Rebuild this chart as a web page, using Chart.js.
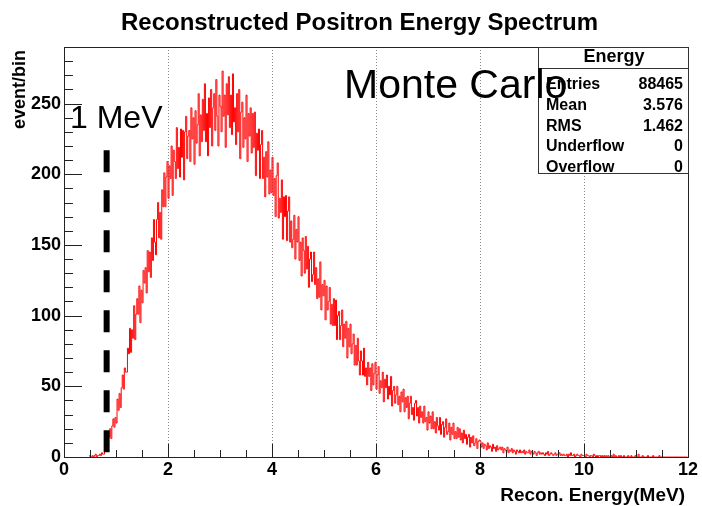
<!DOCTYPE html>
<html>
<head>
<meta charset="utf-8">
<title>Reconstructed Positron Energy Spectrum</title>
<script src="https://cdn.jsdelivr.net/npm/chart.js@4.4.1/dist/chart.umd.min.js"></script>
<style>
  html, body { margin: 0; padding: 0; background: #fff; }
</style>
</head>
<body>
<canvas id="spectrum" width="702" height="506"></canvas>
<script>
// reconstructed positron energy, Monte Carlo, events per bin (bins of 0.02 MeV from 0)
var binStart = 0;
var binWidth = 0.02;
var counts = [
  // 0.0 - 0.4
  null, null, null, null, null, null, null, null, null, null, null, null, null, null, null, null, null, null, null, null,
  // 0.4 - 0.8
  null, null, null, null, 1, 0, 0, 1, 0, 1, 2, 0, 1, 1, 2, 1, 3, 2, 2, 4,
  // 0.8 - 1.2
  13, 9, 17, 14, 20, 13, 22, 27, 21, 28, 24, 41, 33, 45, 35, 49, 58, 48, 63, 60,
  // 1.2 - 1.6
  60, 77, 73, 91, 74, 90, 84, 107, 83, 101, 112, 101, 121, 95, 118, 109, 132, 123, 134, 116,
  // 1.6 - 2.0
  146, 131, 145, 127, 155, 139, 168, 152, 143, 168, 180, 155, 173, 154, 189, 177, 201, 177, 198, 209,
  // 2.0 - 2.4
  183, 206, 197, 220, 185, 217, 209, 197, 233, 204, 219, 198, 232, 212, 231, 196, 230, 241, 211, 227,
  // 2.4 - 2.8
  231, 209, 247, 225, 240, 207, 245, 222, 235, 257, 213, 242, 223, 253, 231, 264, 223, 243, 213, 254,
  // 2.8 - 3.2
  233, 260, 220, 247, 257, 231, 267, 241, 220, 256, 248, 230, 273, 241, 256, 219, 264, 242, 269, 233,
  // 3.2 - 3.6
  256, 228, 271, 237, 247, 221, 257, 230, 260, 211, 244, 251, 219, 240, 225, 256, 209, 243, 227, 247,
  // 3.6 - 4.0
  215, 243, 219, 244, 199, 229, 217, 232, 197, 221, 231, 197, 212, 184, 216, 198, 223, 186, 203, 187,
  // 4.0 - 4.4
  212, 185, 197, 170, 199, 208, 169, 183, 173, 196, 154, 184, 170, 185, 153, 174, 184, 152, 167, 148,
  // 4.4 - 4.8
  154, 171, 140, 161, 152, 170, 139, 152, 128, 155, 146, 130, 156, 133, 149, 120, 140, 145, 124, 129,
  // 4.8 - 5.2
  145, 122, 134, 112, 126, 113, 138, 104, 122, 114, 125, 97, 121, 104, 110, 120, 94, 108, 93, 112,
  // 5.2 - 5.6
  93, 111, 83, 100, 103, 83, 93, 104, 78, 94, 84, 96, 70, 91, 78, 94, 73, 80, 87, 65,
  // 5.6 - 6.0
  79, 65, 84, 68, 58, 75, 68, 58, 77, 57, 63, 51, 67, 57, 63, 47, 66, 51, 59, 67,
  // 6.0 - 6.4
  48, 58, 64, 45, 54, 49, 60, 39, 55, 49, 58, 41, 50, 44, 57, 36, 47, 50, 38, 44,
  // 6.4 - 6.8
  50, 37, 43, 32, 46, 39, 48, 32, 42, 35, 43, 27, 38, 43, 30, 35, 26, 38, 40, 29,
  // 6.8 - 7.2
  35, 24, 36, 28, 32, 24, 36, 25, 28, 19, 32, 24, 29, 20, 32, 20, 25, 17, 28, 22,
  // 7.2 - 7.6
  19, 28, 16, 23, 25, 14, 21, 27, 16, 18, 24, 12, 21, 16, 24, 13, 18, 13, 21, 14,
  // 7.6 - 8.0
  20, 12, 17, 10, 19, 13, 16, 9, 14, 16, 7, 14, 10, 15, 8, 10, 13, 6, 11, 12,
  // 8.0 - 8.4
  11, 7, 10, 6, 9, 8, 5, 10, 6, 8, 7, 4, 9, 6, 7, 4, 8, 5, 6, 7,
  // 8.4 - 8.8
  5, 7, 3, 6, 5, 4, 7, 3, 5, 4, 6, 3, 5, 4, 2, 5, 4, 3, 5, 3,
  // 8.8 - 9.2
  4, 3, 5, 2, 4, 3, 3, 5, 2, 4, 3, 2, 4, 3, 1, 3, 4, 2, 3, 2,
  // 9.2 - 9.6
  3, 2, 1, 3, 2, 4, 1, 2, 3, 2, 1, 2, 3, 1, 2, 2, 3, 1, 2, 1,
  // 9.6 - 10.0
  2, 1, 1, 2, 0, 2, 1, 3, 1, 1, 2, 0, 1, 2, 1, 1, 0, 2, 1, 1,
  // 10.0 - 10.4
  1, 0, 2, 1, 1, 0, 1, 1, 0, 2, 1, 0, 1, 0, 1, 1, 0, 1, 0, 1,
  // 10.4 - 10.8
  0, 1, 0, 1, 0, 0, 1, 0, 2, 0, 1, 0, 0, 1, 0, 1, 0, 0, 1, 0,
  // 10.8 - 11.2
  0, 0, 1, 0, 0, 1, 0, 0, 0, 1, 0, 0, 2, 0, 0, 0, 1, 0, 0, 0,
  // 11.2 - 11.6
  0, 1, 0, 0, 0, 0, 1, 0, 0, 0, 0, 0, 1, 0, 0, 0, 0, 0, 0, 0,
  // 11.6 - 12.0
  0, 0, 0, 0, 0, 0, 0, 0, 0, 0, 0, 0, 0, 0, 0, 0, 0, 0, 0, 0
];

// axis ranges and tick steps
var xRange = [0, 12];
var yRange = [0, 290];
var xMajor = 2, xMinor = 0.5;
var yMajor = 50, yMinor = 10;

// 1 MeV cut marker (energy, top of the dashed line in events/bin)
var cutEnergy = 0.82;
var cutTop = 217;

// stats box
var statTitle = "Energy";
var statLabels = ["Entries", "Mean", "RMS", "Underflow", "Overflow"];
var statValues = ["88465", "3.576", "1.462", "0", "0"];

var FONT = "'Liberation Sans', Arial, Helvetica, sans-serif";

document.addEventListener("DOMContentLoaded", function () {
  var ctx = document.getElementById("spectrum").getContext("2d");

  var histPoints = counts.map(function (c, i) {
    return { x: binStart + (i + 0.5) * binWidth, y: c };
  });

  // ROOT-like frame, ticks, grid and labels
  var rootStyle = {
    id: "rootStyle",
    beforeDatasetsDraw: function (chart) {
      var c = chart.ctx, a = chart.chartArea, xs = chart.scales.x;
      c.save();
      c.strokeStyle = "#8a8a8a";
      c.lineWidth = 1;
      c.setLineDash([1, 2]);
      for (var v = xRange[0] + xMajor; v < xRange[1]; v += xMajor) {
        var px = Math.round(xs.getPixelForValue(v)) + 0.5;
        c.beginPath();
        c.moveTo(px, a.top);
        c.lineTo(px, a.bottom);
        c.stroke();
      }
      c.restore();
    },
    afterDatasetsDraw: function (chart) {
      var c = chart.ctx, a = chart.chartArea, xs = chart.scales.x, ys = chart.scales.y;
      c.save();
      c.strokeStyle = "#222";
      c.lineWidth = 1;
      c.strokeRect(a.left + 0.5, a.top + 0.5, a.right - a.left, a.bottom - a.top);

      // x ticks (inward)
      var v, px, py;
      for (v = xRange[0]; v <= xRange[1] + 1e-9; v += xMinor) {
        px = Math.round(xs.getPixelForValue(v)) + 0.5;
        var major = Math.abs(v / xMajor - Math.round(v / xMajor)) < 1e-6;
        c.beginPath();
        c.moveTo(px, a.bottom);
        c.lineTo(px, a.bottom - (major ? 13 : 7));
        c.stroke();
      }
      // y ticks (inward)
      for (v = yRange[0]; v <= yRange[1]; v += yMinor) {
        py = Math.round(ys.getPixelForValue(v)) + 0.5;
        var ymaj = v % yMajor === 0;
        c.beginPath();
        c.moveTo(a.left, py);
        c.lineTo(a.left + (ymaj ? 18 : 9), py);
        c.stroke();
      }
      c.restore();
    },
    afterDraw: function (chart) {
      var c = chart.ctx;
      c.save();
      c.fillStyle = "#000";

      // title, stretched a little to the width it has in the original
      var title = "Reconstructed Positron Energy Spectrum";
      c.font = "bold 23px " + FONT;
      c.textAlign = "left";
      c.textBaseline = "alphabetic";
      var tw = c.measureText(title).width;
      c.save();
      c.translate(121, 30);
      c.scale(477 / tw, 1);
      c.fillText(title, 0, 0);
      c.restore();

      // axis titles
      c.font = "bold 19px " + FONT;
      c.textAlign = "right";
      c.fillText("Recon. Energy(MeV)", 685, 501);

      c.save();
      c.translate(25, 50);
      c.rotate(-Math.PI / 2);
      c.font = "bold 18px " + FONT;
      c.textAlign = "right";
      c.fillText("event/bin", 0, 0);
      c.restore();

      // stats box
      c.fillStyle = "#fff";
      c.fillRect(538, 47, 151, 126);
      c.strokeStyle = "#333";
      c.lineWidth = 1;
      c.strokeRect(538.5, 47.5, 150, 126);
      c.beginPath();
      c.moveTo(538.5, 68.5);
      c.lineTo(688.5, 68.5);
      c.stroke();
      c.fillStyle = "#000";
      c.font = "bold 18px " + FONT;
      c.textAlign = "center";
      c.fillText(statTitle, 614, 62);
      c.font = "bold 16px " + FONT;
      for (var i = 0; i < statLabels.length; i++) {
        var base = 89 + i * 20.8;
        c.textAlign = "left";
        c.fillText(statLabels[i], 546, base);
        c.textAlign = "right";
        c.fillText(statValues[i], 683, base);
      }

      // annotations
      c.font = "41px " + FONT;
      c.textAlign = "left";
      c.fillText("Monte Carlo", 344, 98);
      c.font = "32px " + FONT;
      c.fillText("1 MeV", 70, 128);
      c.restore();
    }
  };

  new Chart(ctx, {
    type: "line",
    data: {
      datasets: [
        {
          label: "cut",
          data: [{ x: cutEnergy, y: cutTop }, { x: cutEnergy, y: 0 }],
          borderColor: "#000",
          borderWidth: 6,
          borderDash: [22, 18],
          borderCapStyle: "butt",
          pointRadius: 0,
          order: 0
        },
        {
          label: "Energy",
          data: histPoints,
          stepped: "middle",
          borderColor: "#f00",
          borderWidth: 1,
          pointRadius: 0,
          spanGaps: false,
          order: 1
        }
      ]
    },
    options: {
      responsive: false,
      animation: false,
      layout: { padding: { top: 47, right: 14, left: 0, bottom: 0 } },
      plugins: { legend: { display: false }, tooltip: { enabled: false } },
      scales: {
        x: {
          type: "linear",
          min: xRange[0],
          max: xRange[1],
          grid: { display: false, drawTicks: false },
          border: { display: false },
          ticks: {
            stepSize: xMajor,
            maxRotation: 0,
            autoSkip: false,
            padding: 2,
            color: "#000",
            font: { family: FONT, size: 18, weight: "bold" }
          },
          afterFit: function (s) { s.height = 49; }
        },
        y: {
          min: yRange[0],
          max: yRange[1],
          grid: { display: false, drawTicks: false },
          border: { display: false },
          ticks: {
            stepSize: yMajor,
            padding: 3,
            color: "#000",
            font: { family: FONT, size: 18, weight: "bold" }
          },
          afterBuildTicks: function (s) {
            s.ticks = s.ticks.filter(function (t) { return t.value % yMajor === 0; });
          },
          afterFit: function (s) { s.width = 64; }
        }
      }
    },
    plugins: [rootStyle]
  });
});
</script>
</body>
</html>
